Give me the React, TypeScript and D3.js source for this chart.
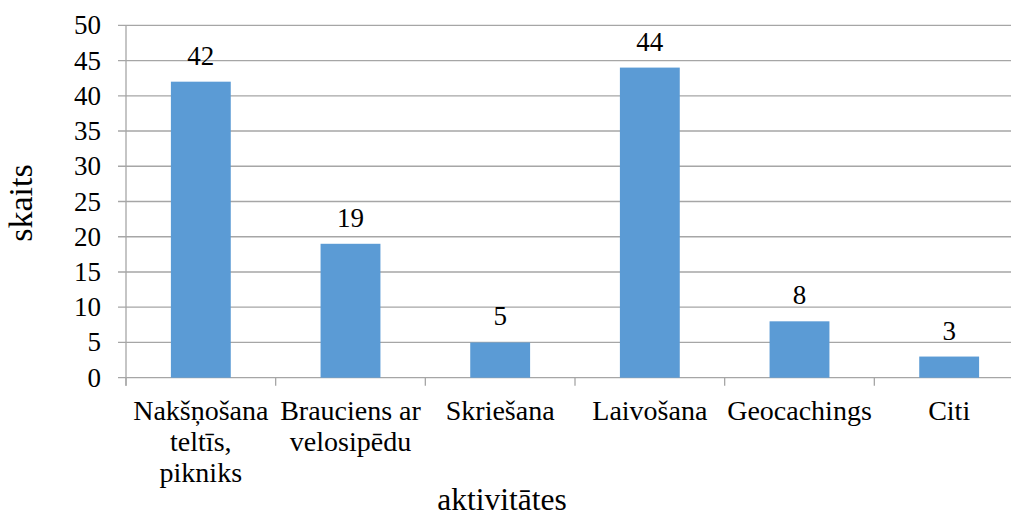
import React from 'react'
import * as d3 from 'd3'

const categories = [
  'Nakšņošana\nteltīs,\npikniks',
  'Brauciens ar\nvelosipēdu',
  'Skriešana',
  'Laivošana',
  'Geocachings',
  'Citi'
]
const values = [42, 19, 5, 44, 8, 3]
const yTicks = [0, 5, 10, 15, 20, 25, 30, 35, 40, 45, 50]

const W = 1011
const H = 516
const left = 126
const right = 1024
const top = 25.3
const bottom = 377.7

export default function App() {
  const s = { fontFamily: "'Liberation Serif'" }
  const x = d3.scaleBand<number>()
    .domain(d3.range(categories.length))
    .range([left, right])
    .paddingInner(0.6)
    .paddingOuter(0.3)
  const y = d3.scaleLinear().domain([0, 50]).range([bottom, top])
  const step = x.step()

  return (
    <div style={{ position: 'absolute', left: 0, top: 0 }}>
      <svg width={W} height={H}>
        {/* gridlines + y ticks */}
        {yTicks.map(t => (
          <line key={'g' + t} x1={left - 8} x2={right} y1={y(t)} y2={y(t)} stroke="#a6a6a6" strokeWidth={1.3} />
        ))}
        {yTicks.map(t => (
          <text key={'t' + t} x={101} y={y(t) + 9} fontSize={27} textAnchor="end" fontFamily="Liberation Serif" style={s}>{t}</text>
        ))}
        {/* y axis line */}
        <line x1={left} x2={left} y1={top} y2={bottom + 8} stroke="#a6a6a6" strokeWidth={1.3} />
        {/* x ticks at band boundaries */}
        {d3.range(categories.length + 1).map(i => (
          <line key={i} x1={left + i * step} x2={left + i * step} y1={bottom} y2={bottom + 8}
            stroke="#a6a6a6" strokeWidth={1.3} />
        ))}
        {/* bars */}
        {values.map((v, i) => (
          <rect key={'b' + i} x={x(i)} y={y(v)} width={x.bandwidth()} height={bottom - y(v)} fill="#5b9bd5" />
        ))}
        {values.map((v, i) => (
          <text key={'l' + i} x={(x(i) as number) + x.bandwidth() / 2} y={y(v) - 17} fontSize={27}
            textAnchor="middle" fontFamily="Liberation Serif" style={s}>{v}</text>
        ))}
        {/* category labels */}
        {categories.map((c, i) => (
          <text key={'c' + i} x={left + (i + 0.5) * step} y={420} fontSize={28} textAnchor="middle"
            fontFamily="Liberation Serif" style={s}>
            {c.split('\n').map((ln, j) => (
              <tspan key={j} x={left + (i + 0.5) * step} dy={j === 0 ? 0 : 31}>{ln}</tspan>
            ))}
          </text>
        ))}
        {/* axis titles */}
        <text transform="translate(32,203) rotate(-90)" fontSize={34} textAnchor="middle"
          fontFamily="Liberation Serif" style={s}>skaits</text>
        <text x={502} y={510} fontSize={31.5} textAnchor="middle" fontFamily="Liberation Serif" style={s}>aktivitātes</text>
      </svg>
    </div>
  )
}
